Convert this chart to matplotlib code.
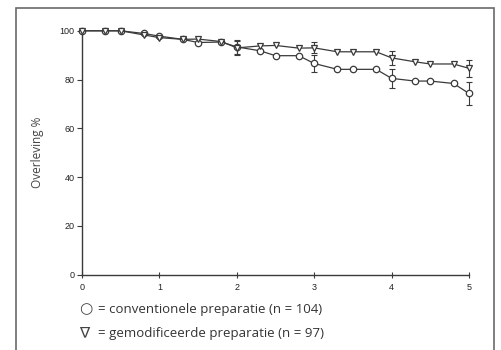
import matplotlib
matplotlib.use('Agg')

import matplotlib.pyplot as plt
from matplotlib.patches import Rectangle

# time (years) and survival %
jaren = [0, 0.3, 0.5, 0.8, 1.0, 1.3, 1.5, 1.8, 2.0, 2.3, 2.5, 2.8, 3.0,
         3.3, 3.5, 3.8, 4.0, 4.3, 4.5, 4.8, 5.0]
conventioneel = [100, 100, 100, 98.9, 97.8, 96.5, 95.2, 95.4, 93.4, 91.8, 89.8,
                 89.8, 86.6, 84.2, 84.2, 84.2, 80.5, 79.4, 79.4, 78.4, 74.3]
gemodificeerd = [100, 100, 100, 98.3, 97.2, 96.5, 96.6, 95.6, 93.0, 93.8, 94.0,
                 92.9, 93.0, 91.4, 91.4, 91.4, 88.9, 87.3, 86.4, 86.4, 84.6]

# error bars only at whole years
err_x = [2, 3, 4, 5]
err_conv = [2.8, 3.4, 3.9, 4.8]
err_gemod = [2.8, 2.3, 2.9, 3.4]

legend_symbols = ['\u25cb', '\u2207']
legend_labels = ['= conventionele preparatie (n = 104)',
                 '= gemodificeerde preparatie (n = 97)']

ink = '#3a3a3a'

fig = plt.figure(figsize=(5.01, 3.5), dpi=100)
fig.patch.set_facecolor('white')
ax = fig.add_axes([0.1637, 0.215, 0.7725, 0.697])

ax.plot(jaren, conventioneel, color=ink, lw=0.9, marker='o', ms=4.6,
        mfc='white', mec=ink, mew=0.9, clip_on=False, zorder=3)
ax.plot(jaren, gemodificeerd, color=ink, lw=0.9, marker='v', ms=5.0,
        mfc='white', mec=ink, mew=0.9, clip_on=False, zorder=3)

conv_at = [conventioneel[jaren.index(x)] for x in err_x]
gemod_at = [gemodificeerd[jaren.index(x)] for x in err_x]
ax.errorbar(err_x, conv_at, yerr=err_conv, fmt='none', ecolor=ink,
            elinewidth=0.8, capsize=2, capthick=0.8, clip_on=False, zorder=2)
ax.errorbar(err_x, gemod_at, yerr=err_gemod, fmt='none', ecolor=ink,
            elinewidth=0.8, capsize=2, capthick=0.8, clip_on=False, zorder=2)

ax.set_xlim(0, 5)
ax.set_ylim(0, 100)
ax.set_xticks([0, 1, 2, 3, 4, 5])
ax.set_yticks([0, 20, 40, 60, 80, 100])
for s in ['top', 'right']:
    ax.spines[s].set_visible(False)
for s in ['left', 'bottom']:
    ax.spines[s].set_color(ink)
    ax.spines[s].set_linewidth(1.0)
ax.tick_params(axis='y', direction='out', length=3.5, width=0.8, color=ink,
               labelsize=6.5, labelcolor='#222222', pad=2)
ax.tick_params(axis='x', direction='inout', length=4, width=0.8, color=ink,
               labelsize=6.5, labelcolor='#222222', pad=4)
for lab in ax.get_xticklabels() + ax.get_yticklabels():
    lab.set_family('Liberation Sans')

ax.set_ylabel('Overleving %', fontsize=8.5, family='Open Sans', color='#444444',
              labelpad=11)

for i, (sym, txt) in enumerate(zip(legend_symbols, legend_labels)):
    y = 1 - (309 + 24 * i) / 350
    fig.text(79 / 501, y, sym, fontsize=11, family='DejaVu Sans',
             color='#444444', va='center')
    fig.text(98 / 501, y, txt, fontsize=9.5, family='Open Sans',
             color='#333333', va='center')

# frame around the figure (bottom edge out of view)
frame = Rectangle((16 / 501, -0.05), 478 / 501, 1.05 - 8 / 350,
                  transform=fig.transFigure, fill=False, edgecolor='#6a6a6a',
                  lw=1.2)
fig.patches.append(frame)

fig.savefig('out.png', dpi=100)
